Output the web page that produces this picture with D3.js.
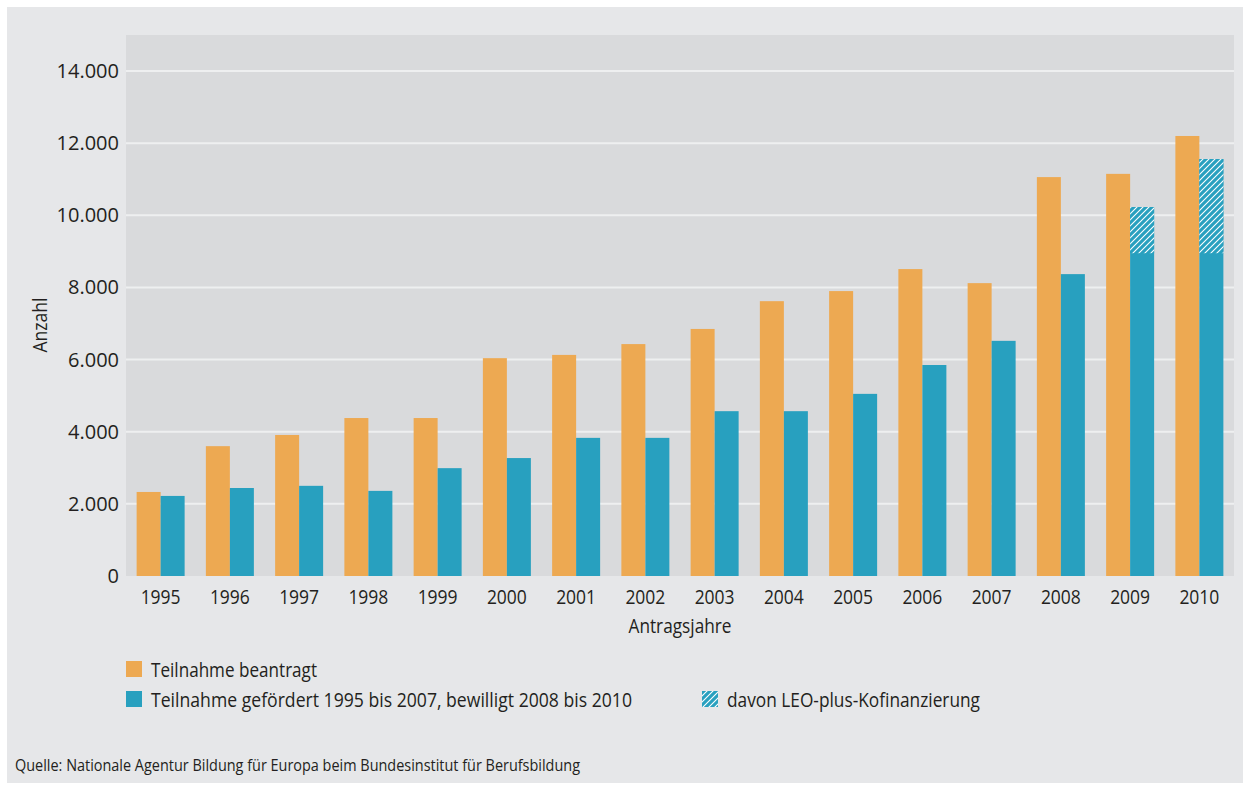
<!DOCTYPE html>
<html>
<head>
<meta charset="utf-8">
<script src="https://cdn.jsdelivr.net/npm/d3@7"></script>
<style>
  html, body { margin: 0; padding: 0; background: #ffffff; }
  svg { display: block; }
  text { font-family: "Open Sans", sans-serif; fill: #231f20; }
</style>
</head>
<body>
<script>
const years = ["1995","1996","1997","1998","1999","2000","2001","2002","2003","2004","2005","2006","2007","2008","2009","2010"];
const beantragt = [2330, 3600, 3910, 4380, 4380, 6040, 6130, 6430, 6850, 7620, 7900, 8510, 8120, 11060, 11150, 12200];
const gefoerdert = [2220, 2440, 2500, 2360, 2990, 3270, 3830, 3830, 4570, 4570, 5050, 5850, 6520, 8370, 10230, 11560];
const leoPlus = [0, 0, 0, 0, 0, 0, 0, 0, 0, 0, 0, 0, 0, 0, 1280, 2610];
const yTicks = [0, 2000, 4000, 6000, 8000, 10000, 12000, 14000];
const seriesNames = ["Teilnahme beantragt", "Teilnahme gefördert 1995 bis 2007, bewilligt 2008 bis 2010"];
const hatchName = "davon LEO-plus-Kofinanzierung";
const xTitle = "Antragsjahre";
const yTitle = "Anzahl";
const source = "Quelle: Nationale Agentur Bildung für Europa beim Bundesinstitut für Berufsbildung";

const W = 1250, H = 791;
const orange = "#eda952", teal = "#28a0bf";
const plot = {left: 126, right: 1234, top: 35, bottom: 576};

const svg = d3.select("body").append("svg").attr("width", W).attr("height", H);

const defs = svg.append("defs");
const pat = defs.append("pattern").attr("id", "hatch")
  .attr("patternUnits", "userSpaceOnUse").attr("width", 6).attr("height", 6);
pat.append("rect").attr("width", 6).attr("height", 6).attr("fill", teal);
pat.append("path").attr("d", "M-1,1 l2,-2 M0,6 l6,-6 M5,7 l2,-2")
  .attr("stroke", "#ffffff").attr("stroke-width", 1.1);

svg.append("rect").attr("x", 7).attr("y", 7).attr("width", 1236).attr("height", 776).attr("fill", "#e6e7e9");
svg.append("rect").attr("x", plot.left).attr("y", plot.top)
  .attr("width", plot.right - plot.left).attr("height", plot.bottom - plot.top).attr("fill", "#d9dadc");

const y = d3.scaleLinear().domain([0, 15000]).range([plot.bottom, plot.top]);
const pi = 1 - 48 / ((plot.right - plot.left) / years.length);
const x0 = d3.scaleBand().domain(years).range([plot.left, plot.right]).paddingInner(pi).paddingOuter(pi / 2);
const x1 = d3.scaleBand().domain(["a", "b"]).range([0, x0.bandwidth()]);

// gridlines
svg.append("g").selectAll("line").data(yTicks.filter(d => d > 0)).join("line")
  .attr("x1", plot.left).attr("x2", plot.right)
  .attr("y1", d => y(d)).attr("y2", d => y(d))
  .attr("stroke", "#eeeff0").attr("stroke-width", 2);

// y axis labels
const yAxis = d3.axisLeft(y).tickValues(yTicks).tickSize(0).tickPadding(0)
  .tickFormat(d => d3.format(",")(d).replace(/,/g, "."));
const gy = svg.append("g").attr("transform", `translate(119,0)`).call(yAxis);
gy.select(".domain").remove();
gy.selectAll("text").attr("font-size", 20).attr("font-family", null).attr("fill", "#231f20");

// x axis labels
const xAxis = d3.axisBottom(x0).tickSize(0).tickPadding(0);
const gx = svg.append("g").attr("transform", `translate(0,${plot.bottom})`).call(xAxis);
gx.select(".domain").remove();
gx.selectAll("text").attr("font-size", 20).attr("font-family", null).attr("fill", "#231f20")
  .attr("dy", null).attr("y", 28).attr("textLength", 40).attr("lengthAdjust", "spacingAndGlyphs");

// bars
const g = svg.append("g");
g.selectAll("rect.or").data(years).join("rect").attr("class", "or")
  .attr("x", d => x0(d) + x1("a")).attr("width", x1.bandwidth())
  .attr("y", (d, i) => y(beantragt[i])).attr("height", (d, i) => y(0) - y(beantragt[i]))
  .attr("fill", orange);
g.selectAll("rect.te").data(years).join("rect").attr("class", "te")
  .attr("x", d => x0(d) + x1("b")).attr("width", x1.bandwidth())
  .attr("y", (d, i) => y(gefoerdert[i])).attr("height", (d, i) => y(0) - y(gefoerdert[i]))
  .attr("fill", teal);
g.selectAll("rect.ht").data(years.filter((d, i) => leoPlus[i] > 0)).join("rect").attr("class", "ht")
  .attr("x", d => x0(d) + x1("b")).attr("width", x1.bandwidth())
  .attr("y", d => y(gefoerdert[years.indexOf(d)]))
  .attr("height", d => { const i = years.indexOf(d); return y(gefoerdert[i] - leoPlus[i]) - y(gefoerdert[i]); })
  .attr("fill", "url(#hatch)");

// titles
svg.append("text").attr("x", (plot.left + plot.right) / 2).attr("y", 633)
  .attr("text-anchor", "middle").attr("font-size", 20).text(xTitle)
  .attr("textLength", 103).attr("lengthAdjust", "spacingAndGlyphs");
svg.append("text").attr("transform", "translate(47,325) rotate(-90)")
  .attr("text-anchor", "middle").attr("font-size", 20).text(yTitle)
  .attr("textLength", 55).attr("lengthAdjust", "spacingAndGlyphs");

// legend
const leg = [
  {x: 126, y: 661, fill: orange, label: seriesNames[0], w: 166},
  {x: 126, y: 691, fill: teal, label: seriesNames[1], w: 481},
  {x: 702, y: 691, fill: "url(#hatch)", label: hatchName, w: 253}
];
const lg = svg.append("g").selectAll("g").data(leg).join("g");
lg.append("rect").attr("x", d => d.x).attr("y", d => d.y).attr("width", 16).attr("height", 16).attr("fill", d => d.fill);
lg.append("text").attr("x", d => d.x + 25).attr("y", d => d.y + 16).attr("font-size", 20).text(d => d.label)
  .attr("textLength", d => d.w).attr("lengthAdjust", "spacingAndGlyphs");

svg.append("text").attr("x", 15).attr("y", 771).attr("font-size", 17).text(source)
  .attr("textLength", 565).attr("lengthAdjust", "spacingAndGlyphs");
</script>
</body>
</html>
